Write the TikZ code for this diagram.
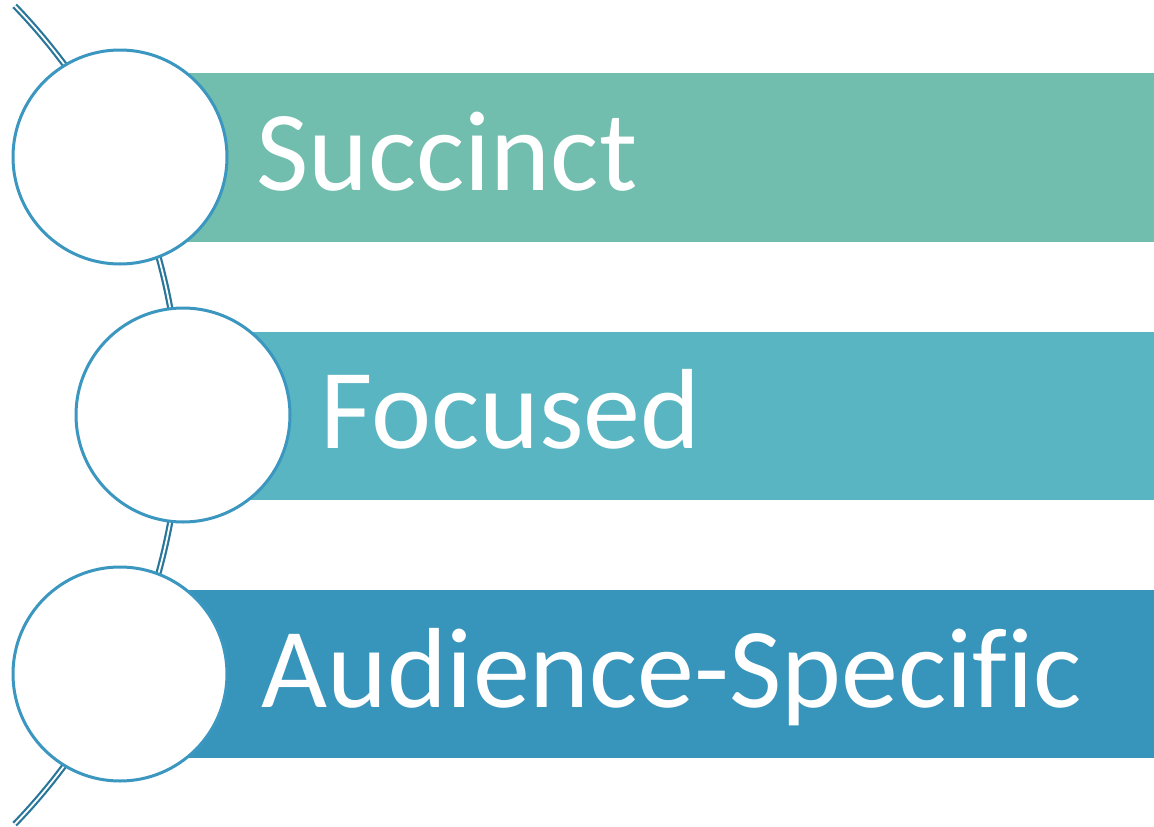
\documentclass[tikz,border=0pt]{standalone}
\usepackage{fontspec}
\newfontfamily\labelfont[Ligatures=NoCommon]{Carlito}
\definecolor{bandA}{HTML}{71BDAE}
\definecolor{bandB}{HTML}{59B5C1}
\definecolor{bandC}{HTML}{3794BB}
\definecolor{ringline}{HTML}{3B97C0}
\definecolor{spine}{HTML}{28779A}
\tikzset{
  ring/.style={circle,draw=ringline,line width=3pt,fill=white,minimum size=214pt,inner sep=0pt},
  lbl/.style={text=white,inner sep=0pt,anchor=base west,font=\labelfont\fontsize{114}{114}\selectfont}
}
\begin{document}
\begin{tikzpicture}[x=1pt,y=-1pt,line join=round,line cap=round]
	\useasboundingbox (0,0) rectangle (1154,827);
	\def\xmax{1154}
	% spine behind the rings
	\coordinate (hub) at (-409,415);
	\draw[spine,line width=2.2pt,double=white,double distance=1.8pt,line cap=butt]
	(hub) ++(-44:589) arc[start angle=-44,end angle=44,radius=589];
	% bands
	\fill[bandA] (120,73) rectangle (\xmax,242);
	\fill[bandB] (183,332) rectangle (\xmax,500);
	\fill[bandC] (120,590) rectangle (\xmax,758);
	% rings
	\node[ring] (c1) at (120,157) {};
	\node[ring] (c2) at (183,415) {};
	\node[ring] (c3) at (120,674) {};
	% labels
	\node[lbl] (t1) at (256,190) {Succinct};
	\node[lbl] (t2) at (320,448) {Focused};
	\node[lbl] (t3) at (261,707) {Audience-Specific};
\end{tikzpicture}
\end{document}
